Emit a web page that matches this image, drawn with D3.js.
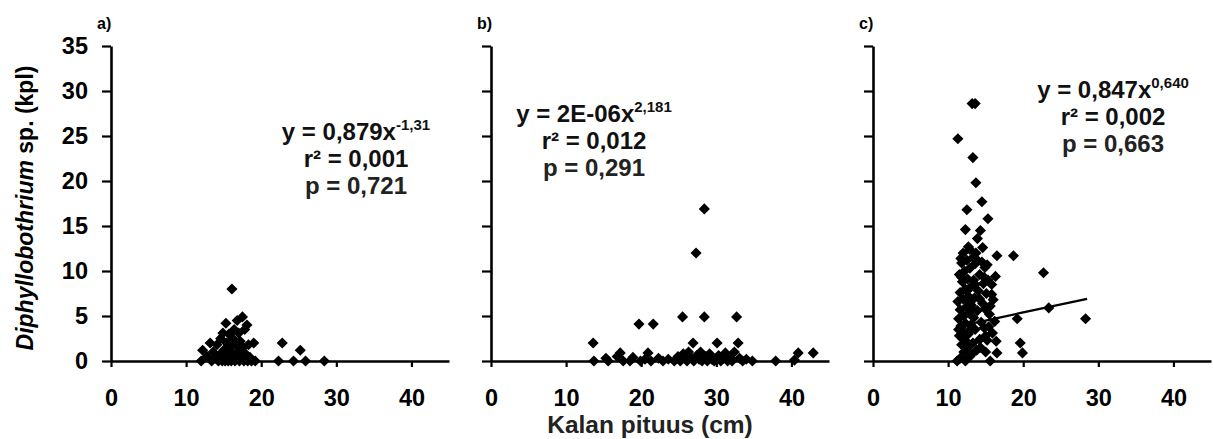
<!DOCTYPE html>
<html>
  <head>
    <meta charset="UTF-8" />
    <script src="https://cdnjs.cloudflare.com/ajax/libs/d3/7.8.5/d3.min.js"></script>
    <style>
      body { margin: 0; background: #fff; }
      text { font-family: "Liberation Sans", Arial, sans-serif; font-weight: bold; }
    </style>
  </head>
  <body>
    <svg id="chart" width="1213" height="439"></svg>
    <script>
      const xTicks = [0, 10, 20, 30, 40];
      const yTicks = [0, 5, 10, 15, 20, 25, 30, 35];
      const xLabel = "Kalan pituus (cm)";

      // a) [pituus, kpl]
      const pointsA = [
        [12.0, 0], [12.2, 1.2], [12.8, 0.5], [13.2, 2.0], [13.4, 0], [13.6, 1.0], [13.9, 0.3],
        [14.1, 1.8], [14.3, 0], [14.5, 0.7], [14.6, 2.5], [14.8, 0], [14.9, 3.1], [15.0, 1.2],
        [15.1, 0.4], [15.2, 0], [15.3, 4.2], [15.4, 2.0], [15.5, 1.0], [15.6, 0], [15.7, 3.0],
        [15.8, 0.5], [15.9, 1.5], [16.0, 0], [16.1, 8.0], [16.2, 2.5], [16.3, 0.8], [16.4, 3.5],
        [16.5, 0], [16.6, 1.8], [16.7, 0.3], [16.8, 4.5], [16.9, 1.0], [17.0, 3.1], [17.1, 0],
        [17.2, 2.2], [17.3, 0.6], [17.5, 4.9], [17.6, 1.5], [17.7, 0], [17.8, 3.5], [17.9, 0.8],
        [18.1, 4.0], [18.2, 0], [18.3, 1.8], [18.5, 0.4], [18.7, 0], [19.0, 2.0], [19.2, 0],
        [22.3, 0], [22.8, 2.0], [24.3, 0], [25.2, 1.2], [25.9, 0], [28.4, 0]
      ];

      // b)
      const pointsB = [
        [13.6, 2.0], [13.7, 0], [15.3, 0.3], [15.6, 0], [16.8, 0.5], [17.2, 0.9], [17.6, 0],
        [18.5, 0], [18.9, 0.4], [19.7, 4.1], [19.9, 0], [20.5, 0.2], [20.9, 0.9], [21.3, 0],
        [21.6, 4.1], [22.3, 0.3], [22.9, 0], [23.6, 0.2], [24.4, 0], [24.9, 0.5], [25.2, 0],
        [25.5, 4.9], [25.6, 0.8], [25.9, 0.3], [26.1, 0], [26.3, 1.0], [26.6, 0.4], [26.9, 2.0],
        [27.0, 0], [27.3, 12.0], [27.4, 0.6], [27.7, 0.2], [27.9, 1.0], [28.1, 0], [28.4, 16.9],
        [28.4, 4.9], [28.6, 0.5], [28.8, 0], [29.1, 0.8], [29.4, 0.2], [29.7, 0], [30.1, 2.0],
        [30.3, 0.6], [30.6, 0], [30.9, 0.3], [31.2, 0.9], [31.5, 0], [31.8, 0.4], [32.1, 0],
        [32.4, 1.0], [32.7, 4.9], [32.9, 2.0], [33.1, 0.3], [33.5, 0], [34.0, 0.2], [34.8, 0],
        [37.9, 0], [40.4, 0.1], [40.9, 0.9], [42.9, 0.9]
      ];

      // c)
      const pointsC = [
        [11.2, 0], [11.6, 0.3], [12.3, 0], [12.1, 1.0], [11.8, 1.8], [12.4, 2.2], [11.5, 2.8],
        [12.0, 3.3], [12.7, 3.0], [11.7, 3.9], [12.3, 4.2], [13.0, 4.0], [11.4, 4.7], [12.1, 5.0],
        [12.8, 5.3], [13.4, 4.8], [11.6, 5.7], [12.4, 6.0], [13.1, 6.2], [11.3, 6.6], [12.0, 6.9],
        [12.7, 7.2], [13.5, 7.0], [11.6, 7.6], [12.3, 8.0], [13.0, 8.2], [11.9, 8.8], [12.6, 9.1],
        [13.4, 9.0], [11.5, 9.6], [12.2, 10.0], [12.9, 10.3], [11.8, 10.9], [12.5, 11.2],
        [13.3, 11.5], [12.0, 12.0], [12.9, 12.4], [13.7, 12.0], [12.7, 12.7], [13.9, 13.6],
        [12.3, 14.6], [14.3, 14.5], [15.3, 15.8], [12.5, 16.8], [14.5, 17.7], [13.7, 19.8],
        [13.3, 22.6], [11.3, 24.7], [13.2, 28.6], [13.6, 28.6],
        [13.8, 1.2], [14.2, 2.4], [13.6, 3.5], [14.4, 4.3], [13.9, 5.6], [14.6, 6.4], [14.0, 7.8],
        [14.7, 8.6], [14.2, 9.6], [14.9, 10.4], [15.2, 10.7], [16.3, 9.4], [16.5, 11.7],
        [18.7, 11.7], [22.7, 9.8], [15.8, 8.5], [16.0, 6.8], [15.5, 5.2], [15.9, 3.1], [15.2, 2.3],
        [16.5, 0.9], [15.6, 0], [14.3, 1.5], [13.2, 0.8], [14.8, 3.7], [15.1, 7.5], [14.5, 11.0],
        [13.6, 10.8], [19.2, 4.7], [23.4, 5.9], [28.3, 4.7], [19.6, 2.0], [19.9, 0.9],
        [11.9, 2.5], [12.6, 1.5], [13.3, 2.0], [12.9, 0.5], [11.4, 3.5], [13.2, 5.8], [12.5, 7.8],
        [11.8, 9.3], [13.6, 8.5], [12.8, 6.5], [11.7, 11.4], [13.1, 3.6],
        [15.0, 1.0], [15.4, 3.8], [14.9, 5.8], [15.6, 6.1], [15.3, 9.0], [16.2, 4.4], [15.8, 7.4],
        [14.6, 12.6], [15.0, 2.8], [16.4, 2.2], [14.2, 6.9], [14.8, 9.3], [13.9, 11.2]
      ];

      // trendline in c)
      const trendC = [[11.2, 3.8], [15.6, 4.6], [20.0, 5.4], [28.5, 6.9]];

      const labelsA = ["y = 0,879x", "-1,31", "r² = 0,001", "p = 0,721"];
      const labelsB = ["y = 2E-06x", "2,181", "r² = 0,012", "p = 0,291"];
      const labelsC = ["y = 0,847x", "0,640", "r² = 0,002", "p = 0,663"];

      const svg = d3.select("#chart");
      const plotW = 338;
      const yScale = d3.scaleLinear().domain([0, 35]).range([361, 46]);

      const panels = [
        { id: "a)", left: 111, points: pointsA, labels: labelsA, tx: 356, ty: 140, showY: true },
        { id: "b)", left: 491, points: pointsB, labels: labelsB, tx: 594, ty: 122, showY: false },
        { id: "c)", left: 873, points: pointsC, labels: labelsC, tx: 1113, ty: 98, showY: false, trend: trendC }
      ];

      const diamond = d3.symbol().type(d3.symbolSquare).size(62);

      panels.forEach(p => {
        const xScale = d3.scaleLinear().domain([0, 45]).range([p.left, p.left + plotW]);
        const g = svg.append("g");

        const xAxis = d3.axisBottom(xScale).tickValues(xTicks).tickSize(6).tickSizeOuter(0).tickPadding(22);
        const gx = g.append("g").attr("transform", "translate(0,361)").call(xAxis);

        const yAxis = d3.axisLeft(yScale).tickValues(yTicks).tickSize(9).tickSizeOuter(0).tickPadding(14);
        if (!p.showY) yAxis.tickFormat("");
        const gy = g.append("g").attr("transform", `translate(${p.left},0)`).call(yAxis);

        [gx, gy].forEach(a => {
          a.select(".domain").attr("stroke", "#000").attr("stroke-width", 2.6);
          a.selectAll(".tick line").attr("stroke", "#000").attr("stroke-width", 2.2);
          a.selectAll(".tick text").attr("fill", "#000").style("font-size", "23.5px")
            .style("font-family", '"Liberation Sans", Arial, sans-serif').style("font-weight", "bold");
        });

        g.selectAll("path.pt")
          .data(p.points)
          .enter()
          .append("path")
          .attr("class", "pt")
          .attr("d", diamond)
          .attr("transform", d => `translate(${xScale(d[0])},${yScale(d[1])}) rotate(45)`)
          .attr("fill", "#000");

        if (p.trend) {
          const line = d3.line().x(d => xScale(d[0])).y(d => yScale(d[1]));
          g.append("path")
            .attr("d", line(p.trend))
            .attr("fill", "none")
            .attr("stroke", "#000")
            .attr("stroke-width", 2.2);
        }

        // panel letter
        g.append("text")
          .attr("x", p.left - 14)
          .attr("y", 29)
          .style("font-size", "16px")
          .text(p.id);

        // equation box
        const eq = g.append("text")
          .attr("x", p.tx)
          .attr("y", p.ty)
          .attr("text-anchor", "middle")
          .style("font-size", "24px")
          .attr("fill", "#111");
        eq.append("tspan").text(p.labels[0]);
        eq.append("tspan").attr("dy", -10).style("font-size", "15px").text(p.labels[1]);

        g.append("text")
          .attr("x", p.tx)
          .attr("y", p.ty + 27)
          .attr("text-anchor", "middle")
          .style("font-size", "24px")
          .attr("fill", "#111")
          .text(p.labels[2]);
        g.append("text")
          .attr("x", p.tx)
          .attr("y", p.ty + 54)
          .attr("text-anchor", "middle")
          .style("font-size", "24px")
          .attr("fill", "#222")
          .text(p.labels[3]);
      });

      // y title
      const yt = svg.append("text")
        .attr("transform", "translate(33,208) rotate(-90)")
        .attr("text-anchor", "middle")
        .style("font-size", "23px");
      yt.append("tspan").style("font-style", "italic").text("Diphyllobothrium");
      yt.append("tspan").text(" sp. (kpl)");

      // x title
      svg.append("text")
        .attr("x", 650)
        .attr("y", 433)
        .attr("text-anchor", "middle")
        .style("font-size", "24.5px")
        .attr("fill", "#222")
        .text(xLabel);
    </script>
  </body>
</html>
